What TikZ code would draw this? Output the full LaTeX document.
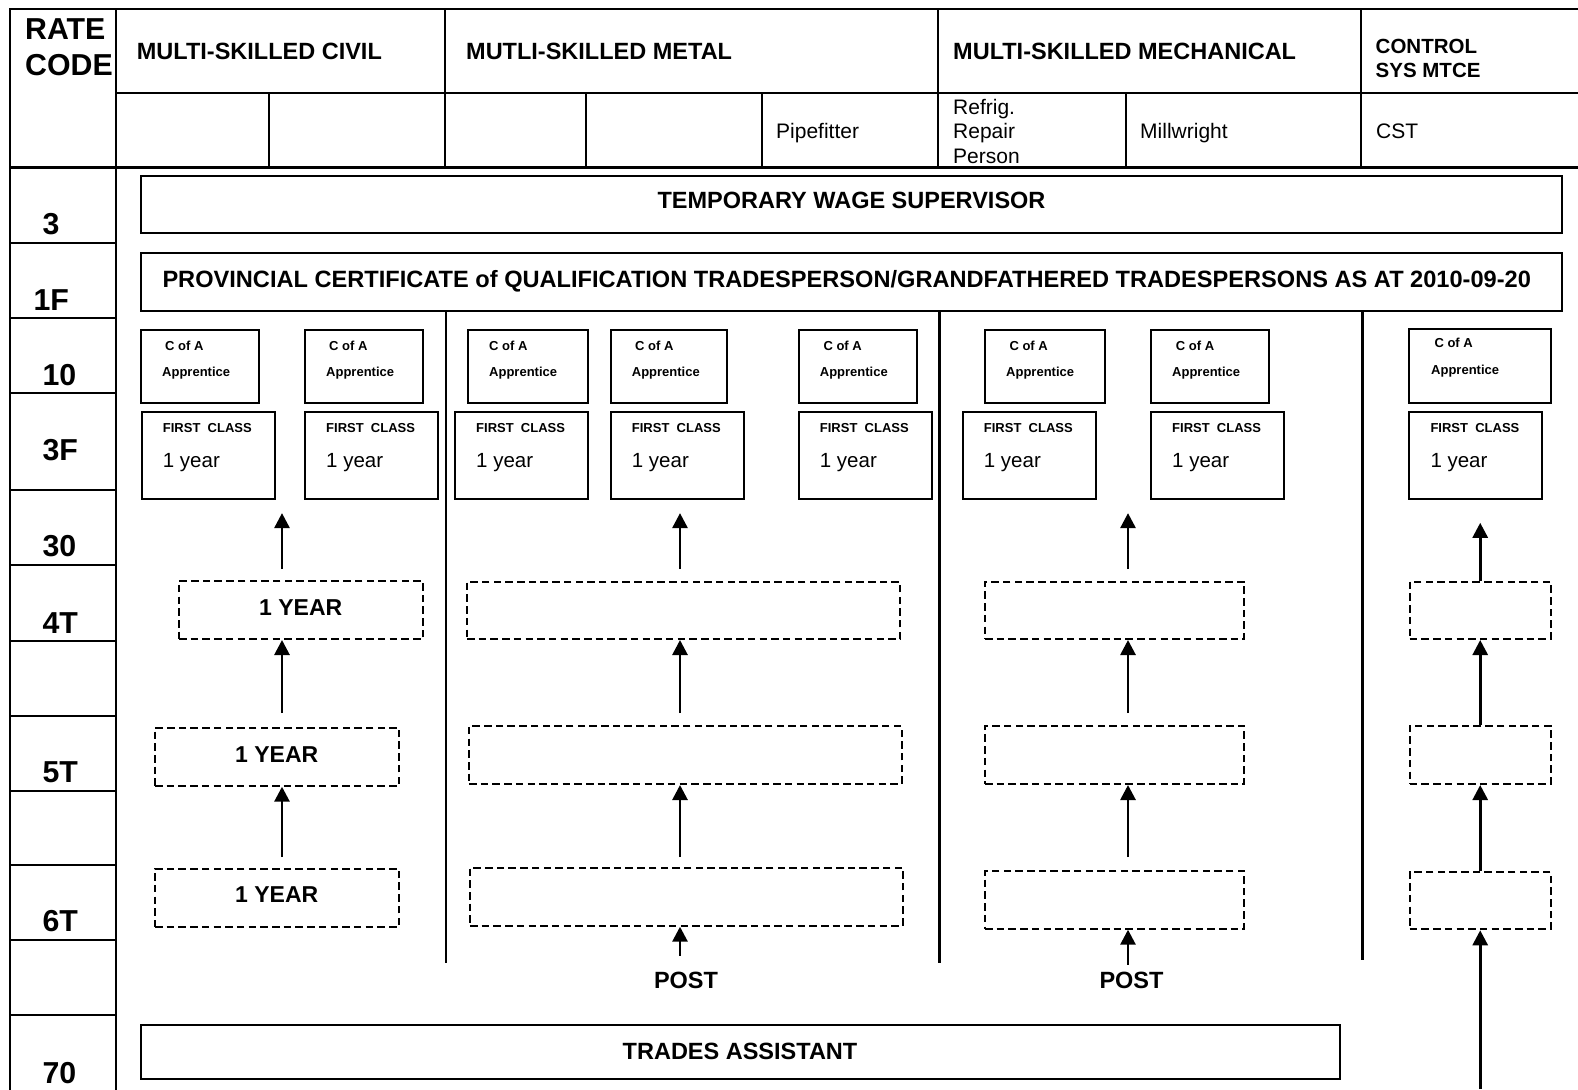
\documentclass[tikz,border=0pt]{standalone}
\usepackage{fontspec}
\setmainfont{Liberation Sans}
\usetikzlibrary{arrows.meta,fit}

\begin{document}
\begin{tikzpicture}[x=1pt,y=-1pt,
  grid/.style={line width=2.4pt, line cap=rect},
  sbox/.style={draw, line width=2.2pt, inner sep=0pt},
  dbox/.style={draw, line width=2pt, dash pattern=on 7.5pt off 4.2pt, inner sep=0pt},
  lbl/.style={inner sep=0pt, anchor=base west},
  clbl/.style={inner sep=0pt, anchor=base},
  code/.style={lbl, font=\fontsize{30.3}{36}\selectfont\bfseries},
  hdr/.style={lbl, font=\fontsize{23.5}{28}\selectfont\bfseries},
  ctr/.style={clbl, font=\fontsize{23.5}{28}\selectfont\bfseries},
  yearcap/.style={clbl, font=\fontsize{23}{28}\selectfont\bfseries},
  hdrs/.style={lbl, font=\fontsize{20.5}{24}\selectfont\bfseries},
  trade/.style={lbl, font=\fontsize{21}{24}\selectfont},
  sm/.style={lbl, font=\fontsize{13}{16}\selectfont\bfseries},
  yr/.style={lbl, font=\fontsize{20.5}{24}\selectfont},
  arr/.style={line width=2.8pt, -{Triangle[length=15pt,width=15pt]}}
]
\useasboundingbox (0,0) rectangle (1578,1089);

% ---------- table frame ----------
\draw[grid] (10,9) -- (1578,9);
\draw[grid] (116,93) -- (1578,93);
\draw[grid] (10,167.5) -- (1578,167.5);
\draw[grid] (10,9) -- (10,1089);
\draw[grid] (116,9) -- (116,1089);
\foreach \x in {445,938,1361} \draw[grid] (\x,9) -- (\x,167.5);
\foreach \x in {269,586,762,1126} \draw[grid] (\x,93) -- (\x,167.5);
\foreach \y in {243,318,392.7,490,565,640.7,716,790.7,865,940,1015}
  \draw[grid] (10,\y) -- (116,\y);

% ---------- header texts ----------
\node[code] (rate) at (25,39.3) {RATE};
\node[code] (codeh) at (25,75.5) {CODE};
\node[hdr] (hcivil) at (136.7,59.3) {MULTI-SKILLED CIVIL};
\node[hdr] (hmetal) at (466,59.3) {MUTLI-SKILLED METAL};
\node[hdr] (hmech) at (953,59.3) {MULTI-SKILLED MECHANICAL};
\node[hdrs] (hctl1) at (1375.5,53.6) {CONTROL};
\node[hdrs] (hctl2) at (1375.5,77.8) {SYS MTCE};
\node[trade] (pipe) at (776,138.3) {Pipefitter};
\node[trade] (ref1) at (953,115) {Refrig.};
\node[trade] (ref2) at (953,139) {Repair};
\node[trade] (ref3) at (953,163) {Person};
\node[trade] (mill) at (1140,138.3) {Millwright};
\node[trade] (cst) at (1376,138.3) {CST};

% ---------- rate codes ----------
\node[code] (r3)  at (42.3,234.3) {3};
\node[code] (r1F) at (33.3,310) {1F};
\node[code] (r10) at (42.3,385) {10};
\node[code] (r3F) at (42.3,460) {3F};
\node[code] (r30) at (42.3,556.7) {30};
\node[code] (r4T) at (42.3,633.3) {4T};
\node[code] (r5T) at (42.3,782.3) {5T};
\node[code] (r6T) at (42.3,931.7) {6T};
\node[code] (r70) at (42.3,1083) {70};

% ---------- wide bands ----------
\node[sbox, fit={(141,176) (1562,233)}] (tws) {};
\node[ctr] (twst) at (851.5,208.3) {TEMPORARY WAGE SUPERVISOR};
\node[sbox, fit={(141,253) (1562,311)}] (pcq) {};
\node[hdr, font=\fontsize{23.6}{28}\selectfont\bfseries] (pcqt) at (162.3,287.3) {PROVINCIAL CERTIFICATE of QUALIFICATION TRADESPERSON/GRANDFATHERED TRADESPERSONS AS AT 2010-09-20};
\node[sbox, fit={(141,1025) (1340,1079)}] (ta) {};
\node[ctr] (tat) at (740,1059) {TRADES ASSISTANT};

% ---------- stream dividers ----------
\draw[grid, line cap=butt] (446,311) -- (446,963);
\draw[grid, line cap=butt] (939.5,311) -- (939.5,963);
\draw[grid, line cap=butt] (1362.5,311) -- (1362.5,960);

% ---------- C of A apprentice boxes ----------
\foreach \n/\xa/\xb/\ci in {1/141/259/24, 2/305/423/24, 3/468/588/21, 4/610.7/727/24.3,
    5/798.7/916.7/24.6, 6/985/1105/24.3, 7/1151/1269.3/24.7} {
  \node[sbox, fit={(\xa,330) (\xb,402.7)}] (ca\n) {};
  \node[sm] (ca\n c) at (\xa+\ci,350) {C of A};
  \node[sm] (ca\n a) at (\xa+21,376) {Apprentice};
}
\node[sbox, fit={(1409.3,329) (1550.7,402.7)}] (ca8) {};
\node[sm] (ca8c) at (1434.3,347.3) {C of A};
\node[sm] (ca8a) at (1431,374) {Apprentice};

% ---------- first class boxes ----------
\foreach \n/\xa/\xb in {1/141.7/275, 2/305/438, 3/455/587.7, 4/610.7/744,
    5/798.7/931.7, 6/962.7/1096, 7/1151/1284.3, 8/1409.3/1542.3} {
  \node[sbox, fit={(\xa,412) (\xb,499)}] (fc\n) {};
  \node[sm] (fc\n h) at (\xa+21,432.3) {FIRST\ \ CLASS};
  \node[yr] (fc\n y) at (\xa+21,467.7) {1 year};
}

% ---------- progression steps (dashed) ----------
\node[dbox, fit={(179,581) (423,639)}] (civA) {};
\node[dbox, fit={(155,727.7) (399,785.7)}] (civB) {};
\node[dbox, fit={(155,869) (399,926.7)}] (civC) {};
\node[yearcap] (civAt) at (300.7,615) {1 YEAR};
\node[yearcap] (civBt) at (276.7,762.3) {1 YEAR};
\node[yearcap] (civCt) at (276.7,902.7) {1 YEAR};

\node[dbox, fit={(467,581.7) (900,639)}] (metA) {};
\node[dbox, fit={(469,726) (901.7,784)}] (metB) {};
\node[dbox, fit={(470,867.7) (902.7,925.7)}] (metC) {};

\node[dbox, fit={(985,581.7) (1244,639)}] (mecA) {};
\node[dbox, fit={(985,725.7) (1244,784)}] (mecB) {};
\node[dbox, fit={(985,870.7) (1244,928.7)}] (mecC) {};

\node[dbox, fit={(1409.7,581.7) (1550.7,639)}] (ctlA) {};
\node[dbox, fit={(1409.7,725.7) (1550.7,784)}] (ctlB) {};
\node[dbox, fit={(1409.7,871.7) (1550.7,929.3)}] (ctlC) {};

\node[ctr] (post1) at (686,988) {POST};
\node[ctr] (post2) at (1131.5,988) {POST};

% ---------- arrows ----------
\coordinate (cx) at (282,0);
\coordinate (mx) at (680,0);
\coordinate (kx) at (1128,0);
\coordinate (tx) at (1480.2,0);
\coordinate (tbot) at (1480.2,1089);

\draw[arr, shorten <=11pt, shorten >=13pt] (civA.north -| cx) -- (fc1.south -| cx);
\draw[arr, shorten <=13.7pt] (civB.north -| cx) -- (civA.south -| cx);
\draw[arr, shorten <=11pt] (civC.north -| cx) -- (civB.south -| cx);

\draw[arr, shorten <=11.7pt, shorten >=13pt] (metA.north -| mx) -- (fc4.south -| mx);
\draw[arr, shorten <=12pt] (metB.north -| mx) -- (metA.south -| mx);
\draw[arr, shorten <=9.7pt] (metC.north -| mx) -- (metB.south -| mx);
\draw[arr, shorten <=15.5pt] (post1.north -| mx) -- (metC.south -| mx);

\draw[arr, shorten <=11.7pt, shorten >=13pt] (mecA.north -| kx) -- (fc6.south -| kx);
\draw[arr, shorten <=11.7pt] (mecB.north -| kx) -- (mecA.south -| kx);
\draw[arr, shorten <=12.7pt] (mecC.north -| kx) -- (mecB.south -| kx);
\draw[arr, shorten <=6.7pt] (post2.north -| kx) -- (mecC.south -| kx);

\draw[arr, shorten >=22.7pt] (ctlA.north -| tx) -- (fc8.south -| tx);
\draw[arr] (ctlB.north -| tx) -- (ctlA.south -| tx);
\draw[arr] (ctlC.north -| tx) -- (ctlB.south -| tx);
\draw[arr] (tbot) -- (ctlC.south -| tx);
\end{tikzpicture}
\end{document}
